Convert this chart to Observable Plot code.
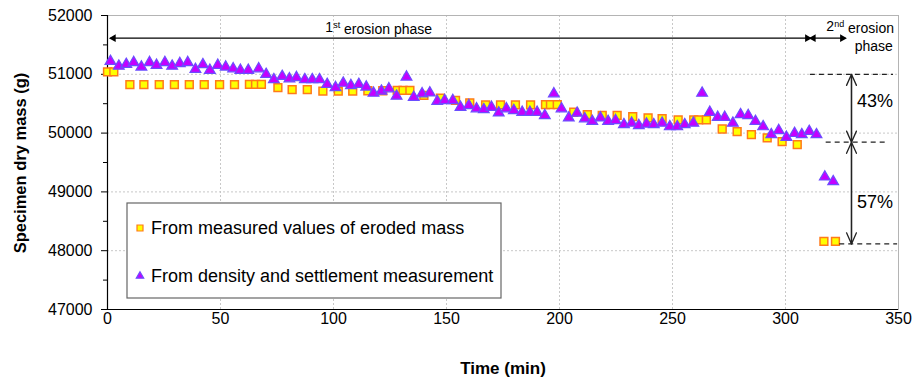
<!DOCTYPE html>
<html><head><meta charset="utf-8">
<script src="https://cdn.jsdelivr.net/npm/d3@7"></script>
<script src="https://cdn.jsdelivr.net/npm/@observablehq/plot@0.6"></script>
<style>body{margin:0;background:#fff}#chart svg{display:block}</style>
</head><body><div id="chart"></div>
<script>
// ---- data ----
const measuredTime = [0,2.8,9.9,16.1,22.9,29.6,36.2,42.8,49.6,56.2,62.8,65.5,68.1,75.4,81.7,88.4,95.3,102.1,108.5,115.2,121.8,128.2,130.8,133.8,140.0,147.3,154.0,160.3,167.3,173.9,180.5,187.2,193.8,196.0,199.0,206.3,212.3,218.9,225.5,232.4,239.2,245.4,252.5,259.4,261.6,265.0,272.0,278.6,284.9,291.9,298.5,305.2,317.0,322.1];
const measuredMass = [51040,51040,50825,50825,50825,50825,50825,50825,50825,50825,50830,50830,50830,50775,50740,50740,50715,50715,50715,50720,50720,50725,50725,50725,50640,50595,50555,50515,50480,50480,50480,50480,50485,50485,50485,50355,50315,50300,50300,50280,50260,50245,50225,50225,50225,50225,50070,50025,49975,49920,49855,49805,48160,48160];
const densityTime = [1.3,5.0,8.3,11.6,15.0,18.6,21.7,25.4,28.6,32.0,35.5,38.9,42.2,45.3,48.8,52.3,55.6,58.8,62.3,66.9,70.2,73.6,77.3,80.5,83.6,87.3,90.6,93.8,97.2,100.9,104.3,107.7,111.2,114.5,117.7,121.2,124.5,127.9,132.3,135.5,139.2,142.6,145.9,149.2,152.8,156.2,159.9,163.3,166.5,169.9,173.1,176.5,179.8,183.5,186.9,190.1,193.5,197.5,200.9,204.1,207.8,211.2,214.5,218.1,221.5,224.8,228.5,231.9,235.1,238.5,241.7,245.4,248.8,252.1,255.4,259.2,263.1,266.5,270.0,273.1,276.7,280.1,283.5,286.7,290.1,293.7,297.0,300.4,304.0,307.2,310.5,313.7,317.4,321.1];
const densityMass = [51220,51140,51170,51200,51125,51200,51155,51200,51140,51185,51200,51085,51165,51070,51155,51125,51095,51070,51070,51095,51000,50910,50965,50925,50945,50910,50910,50910,50830,50775,50850,50810,50830,50785,50680,50715,50755,50630,50955,50610,50670,50685,50540,50555,50555,50440,50470,50415,50400,50440,50345,50415,50385,50355,50355,50355,50300,50670,50415,50260,50340,50245,50200,50260,50200,50215,50145,50170,50130,50155,50145,50170,50110,50110,50145,50170,50680,50355,50270,50270,50170,50315,50300,50200,50110,49975,50045,49930,49995,49975,50030,49975,49255,49175];
const xTicks = [0,50,100,150,200,250,300,350];
const yTicks = [47000,48000,49000,50000,51000,52000];
const yMinorTicks = [47500,48500,49500,50500,51500];
const seriesNames = ["From measured values of eroded mass","From density and settlement measurement"];
const xLabel = "Time (min)";
const yLabel = "Specimen dry mass (g)";
// annotations (data coordinates)
const phaseBounds = [1.3, 311, 326.5];     // time: start, boundary, end
const phaseArrowMass = 51615;
const phaseLabels = ["1st erosion phase", "2nd erosion", "phase"];
const phaseLabelPos = [[120, 51800], [348, 51810], [347.5, 51480]];
const levelMass = [51000, 49845, 48115];     // dashed reference levels
const levelStart = [311, 318, 324];
const levelEnd = [347.8, 345, 349.6];
const shareArrowTime = 329.2;
const shareLabels = ["43%", "57%"];
const shareLabelPos = [[339.6, 50545], [339.6, 48820]];

// ---- tables ----
const measured = measuredTime.map((t, i) => ({t, m: measuredMass[i]}));
const density = densityTime.map((t, i) => ({t, m: densityMass[i]}));
const levels = levelMass.map((m, i) => ({m, x1: levelStart[i], x2: levelEnd[i]}));
const phaseLines = [{x1: phaseBounds[0], x2: phaseBounds[1]}, {x1: phaseBounds[1], x2: phaseBounds[2]}];
const shareArrows = [
  {y1: levelMass[0], y2: levelMass[1]},
  {y1: levelMass[1], y2: levelMass[2]}
];
const font = "'Liberation Sans', Arial, Helvetica, sans-serif";
const sqFill = "#ffff00", sqStroke = "#ff7a1a";
const triFill = "#c400ff", triStroke = "#6b4dff";

const plot = Plot.plot({
  width: 917, height: 378,
  marginLeft: 107, marginRight: 19, marginTop: 15, marginBottom: 69,
  style: {fontFamily: font, fontSize: "16px", color: "#000", background: "#fff"},
  x: {domain: [0, 350]},
  y: {domain: [47000, 52000]},
  marks: [
    Plot.gridX(xTicks.slice(1, -1), {stroke: "#c8c8c8", strokeOpacity: 1, strokeDasharray: "2,2"}),
    Plot.gridY(yTicks.slice(1, -1), {stroke: "#c8c8c8", strokeOpacity: 1, strokeDasharray: "2,2"}),
    Plot.frame({stroke: "#b4b4b4"}),
    Plot.ruleX([0], {stroke: "#000", strokeWidth: 1.2}),
    Plot.ruleY([47000], {stroke: "#000", strokeWidth: 1.2}),
    Plot.axisY(yTicks, {tickSize: 6, tickPadding: 9, tickFormat: d3.format("d"), label: null, fontSize: 16}),
    Plot.axisY(yMinorTicks, {tickSize: 4, fill: "none", label: null}),
    Plot.axisX(xTicks, {tickSize: 0, tickPadding: 3, label: null, fontSize: 16}),
    // series
    Plot.dot(measured, {x: "t", y: "m", symbol: "square", r: 4.4, fill: sqFill, stroke: sqStroke, strokeWidth: 1.5}),
    Plot.dot(density, {x: "t", y: "m", symbol: "triangle", r: 4.0, fill: triFill, stroke: triStroke, strokeWidth: 1.2}),
    // phase arrows
    Plot.link(phaseLines, {x1: "x1", x2: "x2", y1: () => phaseArrowMass, y2: () => phaseArrowMass, stroke: "#000", strokeWidth: 1.2}),
    Plot.dot([phaseBounds[0], phaseBounds[1]], {x: d => d, y: () => phaseArrowMass, symbol: "triangle", r: 2.9, fill: "#000", rotate: -90, dx: 3}),
    Plot.dot([phaseBounds[1], phaseBounds[2]], {x: d => d, y: () => phaseArrowMass, symbol: "triangle", r: 2.9, fill: "#000", rotate: 90, dx: -3}),
    Plot.text(phaseLabels.slice(0, 1), {x: () => phaseLabelPos[0][0], y: () => phaseLabelPos[0][1], fontSize: 14, textAnchor: "middle"}),
    Plot.text(phaseLabels.slice(1), {x: (d, i) => phaseLabelPos[i + 1][0], y: (d, i) => phaseLabelPos[i + 1][1], fontSize: 14, textAnchor: "end"}),
    // dashed levels
    Plot.ruleY(levels, {y: "m", x1: "x1", x2: "x2", stroke: "#222", strokeWidth: 1.3, strokeDasharray: "5,4"}),
    // share arrows (double headed)
    Plot.arrow(shareArrows, {x: () => shareArrowTime, y1: "y1", y2: "y2", stroke: "#222", strokeWidth: 1.3, headLength: 14, headAngle: 48}),
    Plot.arrow(shareArrows, {x: () => shareArrowTime, y1: "y2", y2: "y1", stroke: "#222", strokeWidth: 1.3, headLength: 14, headAngle: 48}),
    Plot.text(shareLabels, {x: (d, i) => shareLabelPos[i][0], y: (d, i) => shareLabelPos[i][1], fontSize: 18}),
    // x axis title
    Plot.text([xLabel], {frameAnchor: "bottom", lineAnchor: "middle", dy: 59, fontSize: 17, fontWeight: "bold"})
  ]
});
document.getElementById("chart").appendChild(plot);

const svg = d3.select(plot);
// superscripts for ordinal labels
svg.selectAll("text").each(function () {
  const s = this.textContent;
  if (s === "1st erosion phase" || s === "2nd erosion") {
    const num = s[0], suf = s.slice(1, 3), rest = s.slice(3);
    const el = d3.select(this);
    el.text(null);
    el.append("tspan").text(num);
    el.append("tspan").attr("dy", "-0.45em").attr("font-size", "9px").text(suf);
    el.append("tspan").attr("dy", "0.45em").text(rest);
  }
});

// y axis title (rotated)
svg.append("text")
  .attr("transform", "translate(20,163) rotate(-90)")
  .attr("text-anchor", "middle").attr("dy", "0.35em")
  .attr("font-family", font).attr("font-size", 16.5).attr("font-weight", "bold").attr("fill", "#000")
  .text(yLabel);

// legend box
const lg = svg.append("g").attr("font-family", font).attr("font-size", 18).attr("text-anchor", "start");
lg.append("rect").attr("x", 127).attr("y", 203).attr("width", 374).attr("height", 95)
  .attr("fill", "#fff").attr("stroke", "#666").attr("stroke-width", 1.2);
const rows = [
  {y: 228, sym: d3.symbolSquare, size: 36, fill: sqFill, stroke: sqStroke, name: seriesNames[0]},
  {y: 276, sym: d3.symbolTriangle, size: 24, fill: triFill, stroke: triStroke, name: seriesNames[1]}
];
for (const r of rows) {
  lg.append("path").attr("d", d3.symbol(r.sym, r.size)()).attr("transform", `translate(140,${r.y})`)
    .attr("fill", r.fill).attr("stroke", r.stroke).attr("stroke-width", 1.2);
  lg.append("text").attr("x", 151).attr("y", r.y).attr("dy", "0.35em").attr("text-anchor", "start")
    .attr("fill", "#000").text(r.name);
}
</script>
</body></html>
